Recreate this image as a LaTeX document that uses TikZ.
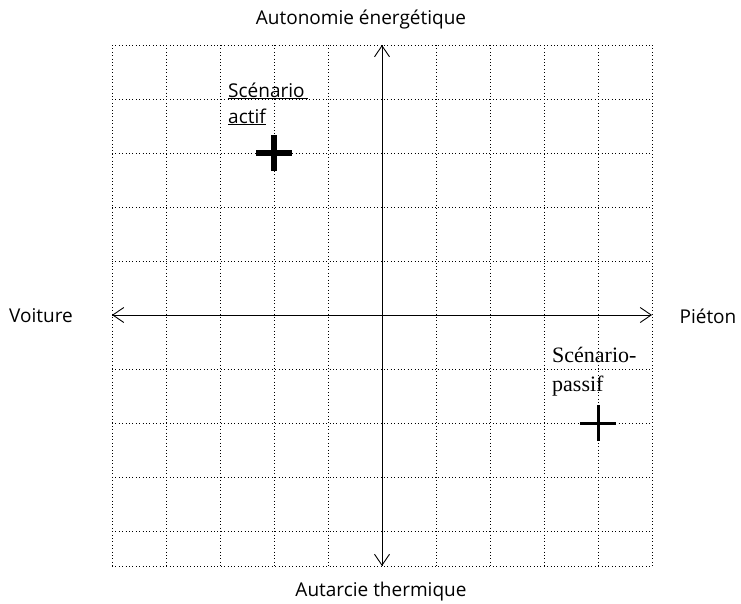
\documentclass[tikz,border=0pt]{standalone}
\usepackage{fontspec}
\setmainfont{Open Sans}
\newfontfamily\seriffont{Liberation Serif}
\usetikzlibrary{arrows.meta}
\begin{document}
\begin{tikzpicture}[x=1pt,y=-1pt,
  gridline/.style={line width=1pt,dash pattern=on 1pt off 2.4pt},
  axis/.style={line width=0.9pt,{Straight Barb[length=11pt,width=15pt]}-{Straight Barb[length=11pt,width=15pt]}},
  lab/.style={font=\fontsize{19}{26}\selectfont,inner sep=0pt},
  boldplus/.style={line width=6.5pt},
  thinplus/.style={line width=3pt}]
\useasboundingbox (0,0) rectangle (741,603);
% grid
\foreach \x in {112,166,...,652} \draw[gridline] (\x,45) -- (\x,566);
\foreach \y in {45,99,...,531} \draw[gridline] (112,\y) -- (652,\y);
\draw[gridline] (112,566) -- (652,566);
% axes
\coordinate (top) at (382,45);
\coordinate (bot) at (382,566);
\coordinate (left) at (112,315);
\coordinate (right) at (652,315);
\draw[axis] (bot) -- (top);
\draw[axis] (left) -- (right);
% labels
\node[lab] (autonomie) at (361,20) {Autonomie énergétique};
\node[lab] (autarcie) at (381,592) {Autarcie thermique};
\node[lab] (voiture) at (41,316) {Voiture};
\node[lab] (pieton) at (708,316) {Piéton};
% scenario actif
\node[lab,anchor=base west,align=left] (actif) at (228,123) {\underline{Scénario\,}\\\underline{actif}};
\coordinate (pa) at (274,153);
\draw[boldplus] ([xshift=-18pt]pa) -- ([xshift=18pt]pa);
\draw[boldplus] ([yshift=-18pt]pa) -- ([yshift=18pt]pa);
% scenario passif
\node[inner sep=0pt,anchor=base west,align=left,font=\seriffont\fontsize{22}{29}\selectfont] (passif) at (552,391) {Scénario-\\passif};
\coordinate (pp) at (598,423);
\draw[thinplus] ([xshift=-18pt]pp) -- ([xshift=18pt]pp);
\draw[thinplus] ([yshift=-18pt]pp) -- ([yshift=18pt]pp);
\end{tikzpicture}
\end{document}
